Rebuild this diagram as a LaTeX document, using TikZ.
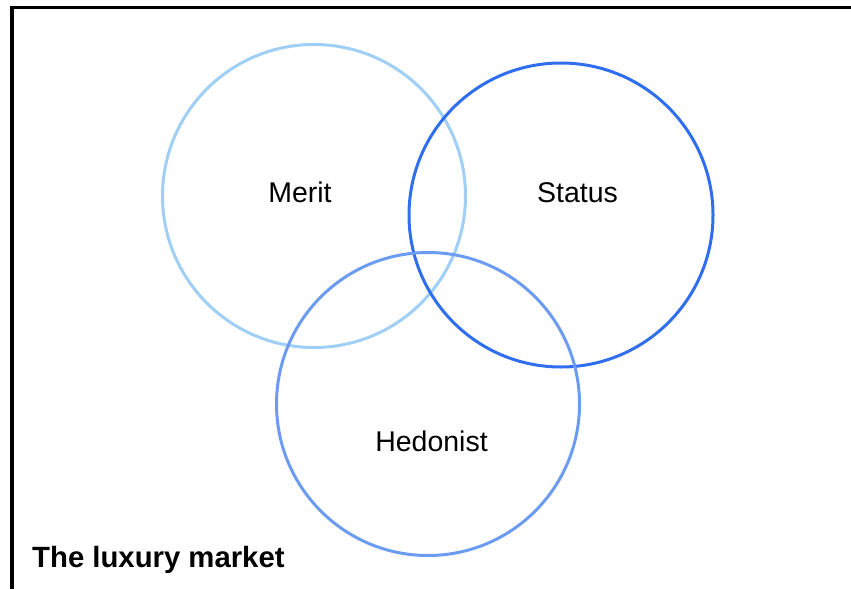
\documentclass[tikz,border=0pt]{standalone}
\usepackage{fontspec}
\setmainfont{Liberation Sans}
\begin{document}
\begin{tikzpicture}[x=1pt,y=-1pt,
  ring/.style={draw=#1, line width=3pt},
  lbl/.style={anchor=base, inner sep=0pt, font=\fontsize{28.5}{34}\selectfont},
  frame/.style={draw=black, line width=3.5pt}]
\definecolor{meritc}{HTML}{9FCFF7}
\definecolor{statusc}{HTML}{2F6EEE}
\definecolor{hedonc}{HTML}{6B9CF2}
\useasboundingbox (0,0) rectangle (851,589);
% open frame: left and top edges
\draw[frame] (12,589) -- (12,7.5) -- (851,7.5);
% three overlapping circles
\draw[ring=meritc]  (314,196) circle[radius=151.5];
\draw[ring=statusc] (561,215) circle[radius=152];
\draw[ring=hedonc]  (428,404) circle[radius=151.5];
% labels
\node[lbl] (merit)  at (300,202) {Merit};
\node[lbl] (status) at (577.5,202) {Status};
\node[lbl] (hedon)  at (431.5,451) {Hedonist};
\node[lbl, anchor=base west, font=\fontsize{29.3}{34}\selectfont\bfseries] (title) at (32,567) {The luxury market};
\end{tikzpicture}
\end{document}
